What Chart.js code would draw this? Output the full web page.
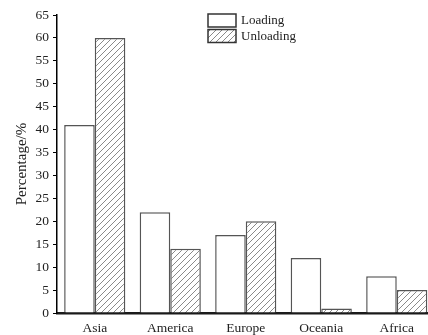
<!DOCTYPE html>
<html>
<head>
<meta charset="utf-8">
<script src="https://cdn.jsdelivr.net/npm/chart.js@4.4.1/dist/chart.umd.min.js"></script>
<style>
  html, body { margin: 0; padding: 0; background: #fff; overflow: hidden; }
  #wrap { width: 436px; height: 335px; position: relative; }
</style>
</head>
<body>
<div id="wrap"><canvas id="c"></canvas></div>
<script>
// Share of loading / unloading by region (%)
const regions = ['Asia', 'America', 'Europe', 'Oceania', 'Africa'];
const loading = [41, 22, 17, 12, 8];
const unloading = [60, 14, 20, 1, 5];
const seriesNames = ['Loading', 'Unloading'];
const yTicks = [0, 5, 10, 15, 20, 25, 30, 35, 40, 45, 50, 55, 60, 65];

const SERIF = '"Liberation Serif", "DejaVu Serif", serif';

// Diagonal hatch fill used for the unloading bars
function makeHatch() {
  const s = 6;
  const pc = document.createElement('canvas');
  pc.width = s; pc.height = s;
  const g = pc.getContext('2d');
  g.fillStyle = '#fff';
  g.fillRect(0, 0, s, s);
  g.strokeStyle = '#8a8a8a';
  g.lineWidth = 1;
  g.beginPath();
  g.moveTo(0, s); g.lineTo(s, 0);
  g.moveTo(-1, 1); g.lineTo(1, -1);
  g.moveTo(s - 1, s + 1); g.lineTo(s + 1, s - 1);
  g.stroke();
  return g.createPattern(pc, 'repeat');
}
const hatch = makeHatch();

// Stacked legend with outlined swatches, drawn at the top middle
const boxLegend = {
  id: 'boxLegend',
  afterDraw(chart) {
    const ctx = chart.ctx;
    const x = 208, w = 28, h = 13;
    const rows = [14, 29.5];
    ctx.save();
    chart.data.datasets.forEach((ds, i) => {
      const y = rows[i];
      ctx.fillStyle = ds.backgroundColor;
      ctx.fillRect(x, y, w, h);
      ctx.strokeStyle = '#333';
      ctx.lineWidth = 1.5;
      ctx.strokeRect(x, y, w, h);
      ctx.fillStyle = '#222';
      ctx.font = '13px ' + SERIF;
      ctx.textBaseline = 'middle';
      ctx.textAlign = 'left';
      ctx.fillText(ds.label, x + w + 5, y + h / 2 + 0.5);
    });
    ctx.restore();
  }
};

new Chart(document.getElementById('c'), {
  type: 'bar',
  data: {
    labels: regions,
    datasets: [
      { label: seriesNames[0], data: loading, backgroundColor: '#ffffff',
        borderColor: '#555', borderWidth: 1.5 },
      { label: seriesNames[1], data: unloading, backgroundColor: hatch,
        borderColor: '#555', borderWidth: 1.5 }
    ]
  },
  options: {
    responsive: true,
    maintainAspectRatio: false,
    animation: false,
    devicePixelRatio: 1,
    layout: { padding: { top: 15, right: 1.5, bottom: 0, left: 0 } },
    datasets: { bar: { barPercentage: 1, categoryPercentage: 0.81 } },
    plugins: { legend: { display: false }, tooltip: { enabled: false } },
    scales: {
      x: {
        grid: { display: false },
        border: { display: true, color: '#1a1a1a', width: 2.5 },
        ticks: { color: '#222', font: { family: SERIF, size: 13.5 }, padding: -1 },
        afterFit(scale) { scale.height = 22; }
      },
      y: {
        min: 0, max: 65,
        afterBuildTicks(scale) { scale.ticks = yTicks.map(v => ({ value: v })); },
        grid: { display: true, drawOnChartArea: false, drawTicks: true, tickLength: 4,
                color: '#000', lineWidth: 1 },
        border: { display: true, color: '#000', width: 1.5 },
        ticks: { color: '#222', font: { family: SERIF, size: 13.5 }, padding: 4 },
        title: { display: true, text: 'Percentage/%', color: '#222',
                 font: { family: SERIF, size: 15 }, padding: { top: 13, bottom: 0 } },
        afterFit(scale) { scale.width = 57; }
      }
    }
  },
  plugins: [boxLegend]
});
</script>
</body>
</html>
